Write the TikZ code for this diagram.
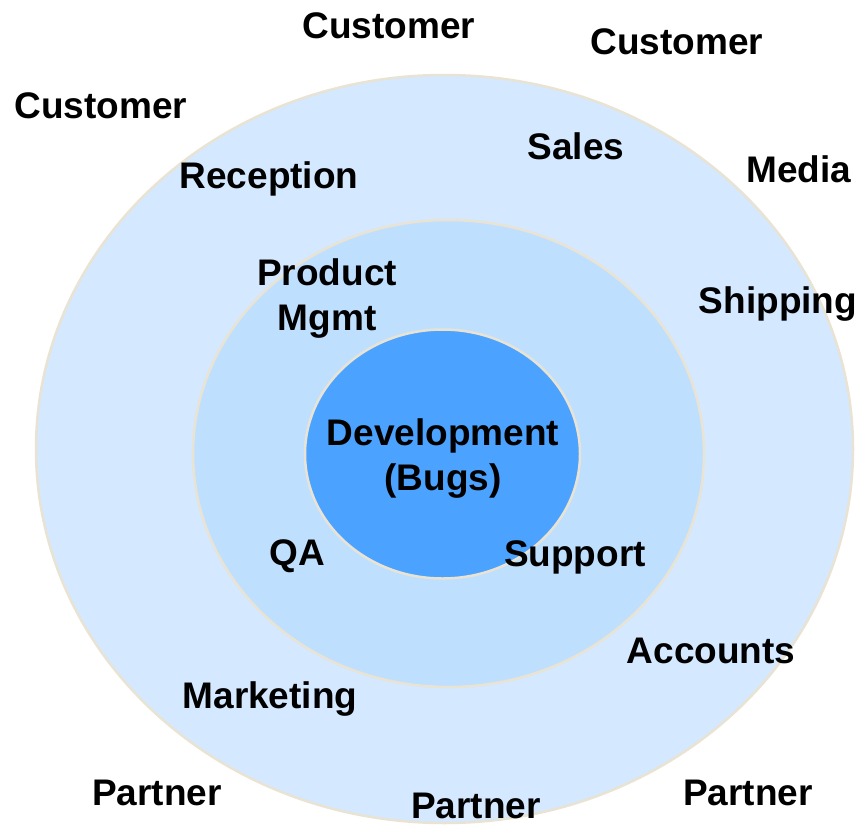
\documentclass[tikz,border=0pt]{standalone}
\usepackage{fontspec}
\setmainfont{Liberation Sans}
\definecolor{outerblue}{HTML}{D4E8FF}
\definecolor{midblue}{HTML}{BFDFFF}
\definecolor{coreblue}{HTML}{4BA3FF}
\definecolor{rimbeige}{HTML}{E9E3D3}
\tikzset{
  ring/.style={draw=rimbeige,line width=2.5pt},
  lbl/.style={anchor=base,inner sep=0pt,align=center,
    font=\fontsize{37}{45}\selectfont\bfseries}
}
\begin{document}
\begin{tikzpicture}[x=1pt,y=-1pt]
                \useasboundingbox (0,0) rectangle (856,827);
                %% rings
                \draw[ring,fill=outerblue] (444.5,449) ellipse [x radius=408.5,y radius=374];
                \draw[ring,fill=midblue] (448.5,453.5) ellipse [x radius=255.5,y radius=233.5];
                \draw[ring,fill=coreblue] (442.5,454) ellipse [x radius=137.5,y radius=124.5];
                %% outside
                \node[lbl] (custtop) at (389,38) {Customer};
                \node[lbl] (custright) at (677,54) {Customer};
                \node[lbl] (custleft) at (101,118) {Customer};
                \node[lbl] (media) at (799,182) {Media};
                \node[lbl] (partleft) at (157,805) {Partner};
                \node[lbl] (partmid) at (476,818) {Partner};
                \node[lbl] (partright) at (748,805) {Partner};
                %% outer ring
                \node[lbl] (recept) at (269,188) {Reception};
                \node[lbl] (sales) at (576,159) {Sales};
                \node[lbl] (ship) at (778,313) {Shipping};
                \node[lbl] (accts) at (711,663) {Accounts};
                \node[lbl] (mktg) at (270,708) {Marketing};
                %% middle ring
                \node[lbl] (prodmgmt) at (327,330) {Product\\Mgmt};
                \node[lbl] (qa) at (297,565) {QA};
                \node[lbl] (support) at (575,566) {Support};
                %% core
                \node[lbl] (dev) at (443,490) {Development\\(Bugs)};
\end{tikzpicture}
\end{document}
